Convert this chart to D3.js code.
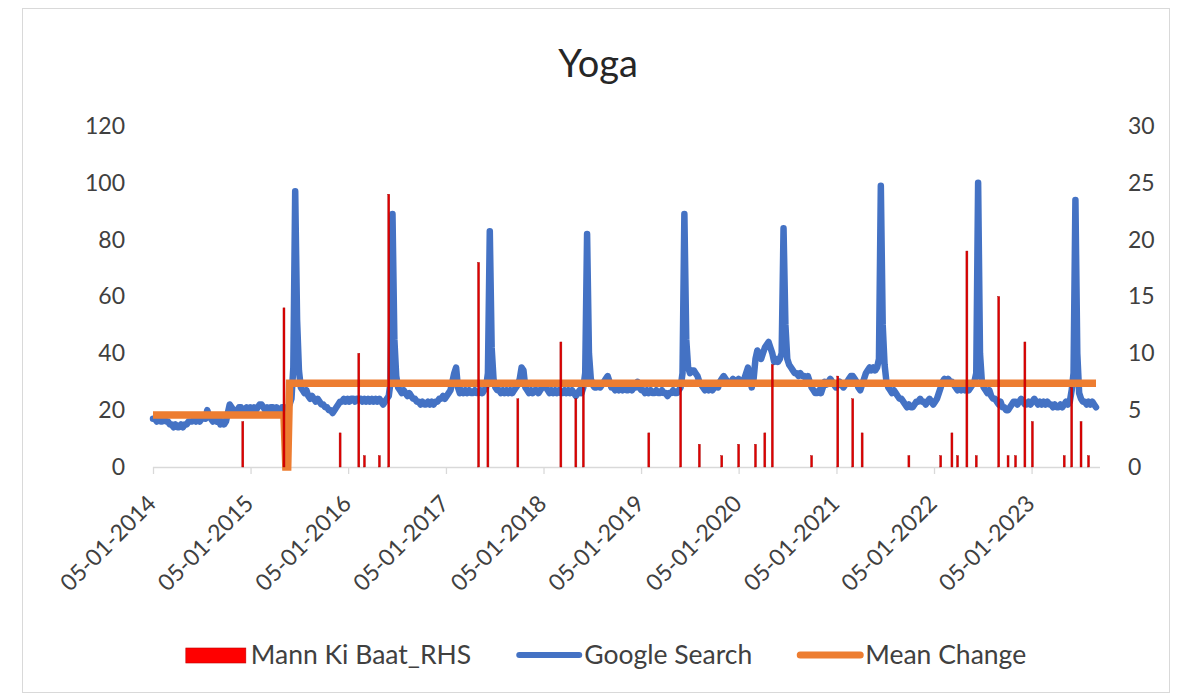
<!DOCTYPE html>
<html><head><meta charset="utf-8">
<script src="https://cdn.jsdelivr.net/npm/d3@7"></script>
<style>
body{margin:0;background:#fff}
text{font-family:Lato,'Open Sans',sans-serif}
</style>
</head><body>
<svg id="chart" width="1177" height="696"></svg>
<script>
// ---------- DATA ----------
const chartTitle = "Yoga";
const startDate = "2014-01-05"; // weekly series start (Sunday)
// Google Search weekly index (left axis)
const searchValues = [
// 2014
17,17,16,17,16,16,17,16, 16,15,15,14,15,14,14,15,14,15,15,16,16,
16,17,16,17,16,17,18,17,20, 18,17,16,17,16,17,15,16, 15,16,19,22,
21,20,19,20,21,21, 20,20,21,20,
// 2015
21,20,21,20,21,22, 22,21,20,21,20,21, 21,20,21,20,20,21, 21,20,21,22,24,35,
97,
52,34,28,27, 26,27,25,24,25,24,23,24,23,22, 22,21,21,20,20,19,20,21,22,
23,23,24,23,24,23,24,24,23,24,24, 24,23,24,23,24,23,24,23,24,23,24,23,22,23,24,25,30,
// 2016
89,
45,32,28,27, 26,27,26,25,26,25,24,24, 23,23,22,23,22,22,23,22,23,22,23,23,
24,24,25,24,25,26,27,30, 33,35,28,
26,27,26,27,26,27,26,26,27,26,26,27,26,27,28,33,
// 2017
83,
42,31,28,27, 27,26,27,26,27,26,27,26,27,28,29,31,35,34,28,
27,26,27,26,27,27,26,27,28,29,28,27,26,27,26,27,
26,27,26,26,27,26,27,26,27,26,25,26,27,26,28,33,
// 2018
82,
40,31,29,28, 28,29,28,29,30,31,32,30,28, 28,27,28,27,28,27,28,27,27,28,27,28,28,30,
28,27,27,26,27,26,27,26,26,27,26,26,27,26,26,25,26,26,27,26,26,27,28,33,
// 2019
89,
45,35,33,34, 34,33,32,30, 29,28,27,28,27,28,27,28,29,28,30, 31,32,31,30,30,
30,31,30,30,31,30,30,31,33, 35,31,28,31,38, 41,40,38,40,42,43,44,42,40,37,38,37,38,40,
// 2020
84,
50,38,36,35,34, 33,33,32,33,32,32,31,32,30, 28,27,26,26,27,26,28,
30,29,30,31,30,29,28,29,30,29,28,29,30,31, 32,32,31,30, 28,27,29,
31,33,34,35,34,35,34,35,38,
// 2021
99,
50,36,30, 28,27,26,27,26,25,24,24,23, 22,21,22,21,21,22,23,23,
24,23,23,22,23,24,23,22,23,24, 26,28,30,31,30,31,30,30,29,
28,27,28,27,28,27,28,27,28,29,30,33,
// 2022
100,
40,30,28,27,26,27,25,24, 24,23,22,23,21,21,20,20,21,22,23,
23,22,23,24,23,22,22,23,22,23,24,23,22,23,22,23,22,23,
22,22,21,22,21,21,22,21,22,23,22,23, 27,33,
// 2023
94,
40,26,24,23,23,22,23,22,23,22,21
];
// Mann Ki Baat episodes (right axis)
const mkbDates = [
"2014-12-07","2015-05-10","2015-12-06","2016-02-14","2016-03-06","2016-05-01","2016-06-05",
"2017-05-07","2017-06-11","2017-10-01","2018-03-11","2018-05-06","2018-06-03",
"2019-02-03","2019-06-02","2019-08-11","2019-11-03","2020-01-05","2020-03-08","2020-04-12","2020-05-10",
"2020-10-04","2021-01-10","2021-03-07","2021-04-11","2021-10-03",
"2022-01-30","2022-03-13","2022-04-03","2022-05-08","2022-06-12","2022-09-04","2022-10-09","2022-11-06","2022-12-11",
"2023-01-08","2023-05-07","2023-06-04","2023-07-09","2023-08-06"
];
const mkbValues = [
4,14,3,10,1,1,24,
18,7,6,11,6,7,
3,7,2,1,2,2,3,9,
1,8,6,3,1,
1,3,1,19,1,15,1,1,11,
4,1,7,4,1
];
// Mean Change (left axis)
const meanDates = ["2014-01-05","2015-05-10","2015-05-17","2015-05-24","2015-05-31","2023-09-03"];
const meanValues = [18.3,18.3,0,0,29.5,29.5];
const leftTicks = [0,20,40,60,80,100,120];
const rightTicks = [0,5,10,15,20,25,30];
const xTickLabels = ["05-01-2014","05-01-2015","05-01-2016","05-01-2017","05-01-2018",
                     "05-01-2019","05-01-2020","05-01-2021","05-01-2022","05-01-2023"];
const legendLabels = ["Mann Ki Baat_RHS","Google Search","Mean Change"];
const colors = {mkb:"#e00000", mkbEdge:"#a00000", search:"#4472C4", mean:"#ED7D31"};

// ---------- BUILD ----------
const parseISO = d3.utcParse("%Y-%m-%d");
const parseDMY = d3.utcParse("%d-%m-%Y");
const start = parseISO(startDate);
const search = searchValues.map((v,i)=>({date:d3.utcDay.offset(start,7*i), value:v}));
const mkb = mkbDates.map((d,i)=>({date:parseISO(d), value:mkbValues[i]}));
const mean = meanDates.map((d,i)=>({date:parseISO(d), value:meanValues[i]}));
const xTicks = xTickLabels.map(parseDMY);

const svg = d3.select("#chart");
svg.append("rect").attr("x",22.5).attr("y",8.5).attr("width",1147).attr("height",684)
  .attr("fill","#fff").attr("stroke","#d9d9d9");

const x = d3.scaleUtc().domain([start, search[search.length-1].date]).range([153,1096]);
const yL = d3.scaleLinear().domain([0,120]).range([467,126]);
const yR = d3.scaleLinear().domain([0,30]).range([467,126]);

// title
svg.append("text").attr("x",598).attr("y",77).attr("text-anchor","middle")
  .attr("font-size",38).attr("fill","#262626").text(chartTitle);

// left axis labels
const gL = svg.append("g").attr("transform","translate(153,0)")
  .call(d3.axisLeft(yL).tickValues(leftTicks).tickSize(0).tickPadding(28));
gL.select(".domain").remove();
gL.selectAll("text").attr("font-size",23).attr("fill","#404040").attr("font-family","Lato");

// right axis labels
const gR = svg.append("g").attr("transform","translate(1100,0)")
  .call(d3.axisRight(yR).tickValues(rightTicks).tickSize(0).tickPadding(28));
gR.select(".domain").remove();
gR.selectAll("text").attr("font-size",23).attr("fill","#404040").attr("font-family","Lato");

// x axis
const gX = svg.append("g").attr("transform","translate(0,467)")
  .call(d3.axisBottom(x).tickValues(xTicks).tickSize(7).tickFormat(d3.utcFormat("%d-%m-%Y")));
gX.select(".domain").attr("d","M153,0.5H1100").attr("stroke","#d9d9d9").attr("stroke-width",1.3);
gX.selectAll(".tick line").attr("stroke","#d9d9d9").attr("stroke-width",1.3);
gX.selectAll(".tick text").attr("font-size",23).attr("fill","#404040").attr("font-family","Lato")
  .attr("text-anchor","end").attr("dy",null).attr("y",0)
  .attr("transform","translate(4,38) rotate(-45)");

// lines
const line = d3.line().x(d=>x(d.date)).y(d=>yL(d.value));
svg.append("path").datum(search).attr("d",line).attr("fill","none")
  .attr("stroke",colors.search).attr("stroke-width",6.5)
  .attr("stroke-linejoin","round").attr("stroke-linecap","round");
svg.append("path").datum(mean).attr("d",line).attr("fill","none")
  .attr("stroke",colors.mean).attr("stroke-width",7.5)
  .attr("stroke-linejoin","miter").attr("stroke-linecap","butt");

// bars (secondary axis, drawn on top)
svg.append("g").selectAll("rect").data(mkb).join("rect")
  .attr("x",d=>x(d.date)-1).attr("width",2)
  .attr("y",d=>yR(d.value)).attr("height",d=>yR(0)-yR(d.value))
  .attr("fill",colors.mkb).attr("stroke",colors.mkbEdge).attr("stroke-width",0.4);

// legend
const lg = svg.append("g");
const legendY = 655;
const items = [
  {label:legendLabels[0], type:"bar", color:colors.mkb},
  {label:legendLabels[1], type:"line", color:colors.search, w:6},
  {label:legendLabels[2], type:"line", color:colors.mean, w:7}
];
let cx = 0;
const swW = 60, gapT = 5, gapI = 48;
items.forEach((it,i)=>{
  const g = lg.append("g").attr("transform",`translate(${cx},0)`);
  if(it.type==="bar"){
    g.append("rect").attr("x",0).attr("y",legendY-7).attr("width",swW).attr("height",15)
      .attr("fill","#ff0000").attr("stroke","#c00000").attr("stroke-width",0.6);
  } else {
    g.append("line").attr("x1",0).attr("x2",swW).attr("y1",legendY).attr("y2",legendY)
      .attr("stroke",it.color).attr("stroke-width",it.w).attr("stroke-linecap","round");
  }
  const t = g.append("text").attr("x",swW+gapT).attr("y",legendY).attr("dy","0.35em")
    .attr("font-size",26.5).attr("fill","#404040").text(it.label);
  cx += swW + gapT + t.node().getComputedTextLength() + gapI;
});
const totalW = cx - gapI;
lg.attr("transform",`translate(${606-totalW/2},0)`);
</script>
</body></html>
